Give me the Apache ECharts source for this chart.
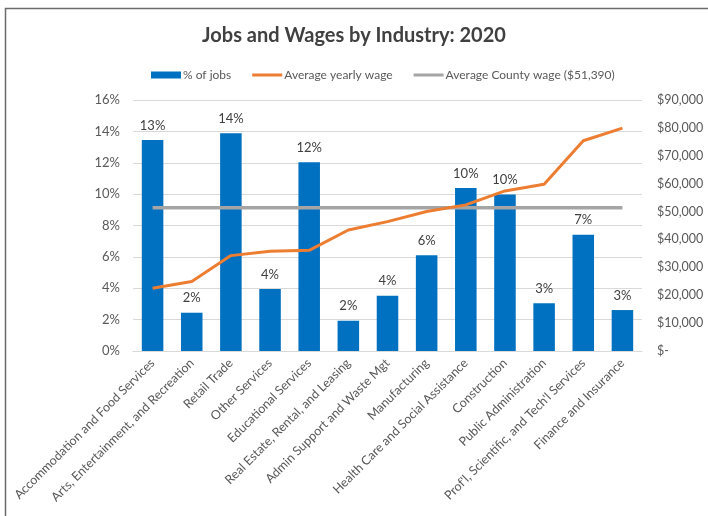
<!DOCTYPE html>
<html>
<head>
<meta charset="utf-8">
<script src="https://cdn.jsdelivr.net/npm/echarts@6/dist/echarts.min.js"></script>
<style>
  html, body { margin: 0; padding: 0; background: #fff; }
  #chart { width: 708px; height: 516px; }
</style>
</head>
<body>
<div id="chart"></div>
<script>
// Industries, ordered by average yearly wage
const industries = [
  'Accommodation and Food Services',
  'Arts, Entertainment, and Recreation',
  'Retail Trade',
  'Other Services',
  'Educational Services',
  'Real Estate, Rental, and Leasing',
  'Admin Support and Waste Mgt',
  'Manufacturing',
  'Health Care and Social Assistance',
  'Construction',
  'Public Administration',
  "Prof'l, Scientific, and Tech'l Services",
  'Finance and Insurance'
];

// Share of county jobs (percent)
const jobShare = [13.45, 2.44, 13.88, 3.95, 12.03, 1.93, 3.52, 6.10, 10.39, 9.98, 3.04, 7.41, 2.61];

// Average yearly wage by industry (dollars)
const avgWage = [22500, 24900, 34200, 35800, 36100, 43400, 46400, 50000, 52400, 57400, 59800, 75400, 79900];

// County-wide average wage
const countyWage = 51390;

const pctTicks = { min: 0, max: 16, interval: 2 };
const wageTicks = { min: 0, max: 90000, interval: 10000 };

const font = 'Lato, "Open Sans", sans-serif';
const textColor = '#595959';

const chart = echarts.init(document.getElementById('chart'), null, { renderer: 'canvas' });

chart.setOption({
  backgroundColor: '#ffffff',
  animation: false,
  textStyle: { fontFamily: font },
  title: {
    text: 'Jobs and Wages by Industry: 2020',
    left: 'center',
    top: 21,
    textStyle: { fontFamily: font, fontSize: 20, fontWeight: 'bold', color: '#404040' }
  },
  legend: {
    top: 64,
    left: 146,
    itemWidth: 30,
    itemHeight: 7,
    itemGap: 21,
    textStyle: { fontFamily: font, fontSize: 12, color: textColor, padding: [0, 0, 0, -3] },
    data: [
      { name: '% of jobs', icon: 'rect' },
      { name: 'Average yearly wage', icon: 'path://M0,0H100V10H0Z' },
      { name: 'Average County wage ($51,390)', icon: 'path://M0,0H100V10H0Z' }
    ]
  },
  graphic: [{
    type: 'rect',
    shape: { x: 5.5, y: 8.5, width: 720, height: 520 },
    style: { fill: 'none', stroke: '#6b6b6b', lineWidth: 1.5 },
    silent: true
  }],
  grid: { left: 133, right: 66, top: 100, bottom: 165, containLabel: false },
  xAxis: {
    type: 'category',
    data: industries,
    axisLine: { lineStyle: { color: '#d9d9d9', width: 1 } },
    axisTick: { show: false },
    axisLabel: {
      rotate: 45,
      interval: 0,
      margin: 10,
      fontFamily: font,
      fontSize: 12.5,
      color: textColor
    }
  },
  yAxis: [
    {
      type: 'value',
      min: pctTicks.min,
      max: pctTicks.max,
      interval: pctTicks.interval,
      axisLine: { show: false },
      axisTick: { show: false },
      splitLine: { lineStyle: { color: '#d9d9d9', width: 1 } },
      axisLabel: {
        margin: 13,
        fontFamily: font,
        fontSize: 13,
        color: textColor,
        formatter: v => v + '%'
      }
    },
    {
      type: 'value',
      min: wageTicks.min,
      max: wageTicks.max,
      interval: wageTicks.interval,
      axisLine: { show: false },
      axisTick: { show: false },
      splitLine: { show: false },
      axisLabel: {
        margin: 15,
        fontFamily: font,
        fontSize: 12.5,
        color: textColor,
        formatter: v => v === 0 ? '$-' : '$' + v.toLocaleString('en-US')
      }
    }
  ],
  series: [
    {
      name: '% of jobs',
      type: 'bar',
      yAxisIndex: 0,
      data: jobShare,
      barCategoryGap: '45%',
      itemStyle: { color: '#0070c0' },
      label: {
        show: true,
        position: 'top',
        distance: 8,
        fontFamily: font,
        fontSize: 13,
        color: '#404040',
        formatter: p => Math.round(p.value) + '%'
      }
    },
    {
      name: 'Average yearly wage',
      type: 'line',
      yAxisIndex: 1,
      data: avgWage,
      showSymbol: false,
      symbol: 'none',
      lineStyle: { color: '#ed7d31', width: 3 },
      itemStyle: { color: '#ed7d31' },
      z: 3
    },
    {
      name: 'Average County wage ($51,390)',
      type: 'line',
      yAxisIndex: 1,
      data: industries.map(() => countyWage),
      showSymbol: false,
      symbol: 'none',
      lineStyle: { color: '#a5a5a5', width: 3.5 },
      itemStyle: { color: '#a5a5a5' },
      z: 2
    }
  ]
});
</script>
</body>
</html>
